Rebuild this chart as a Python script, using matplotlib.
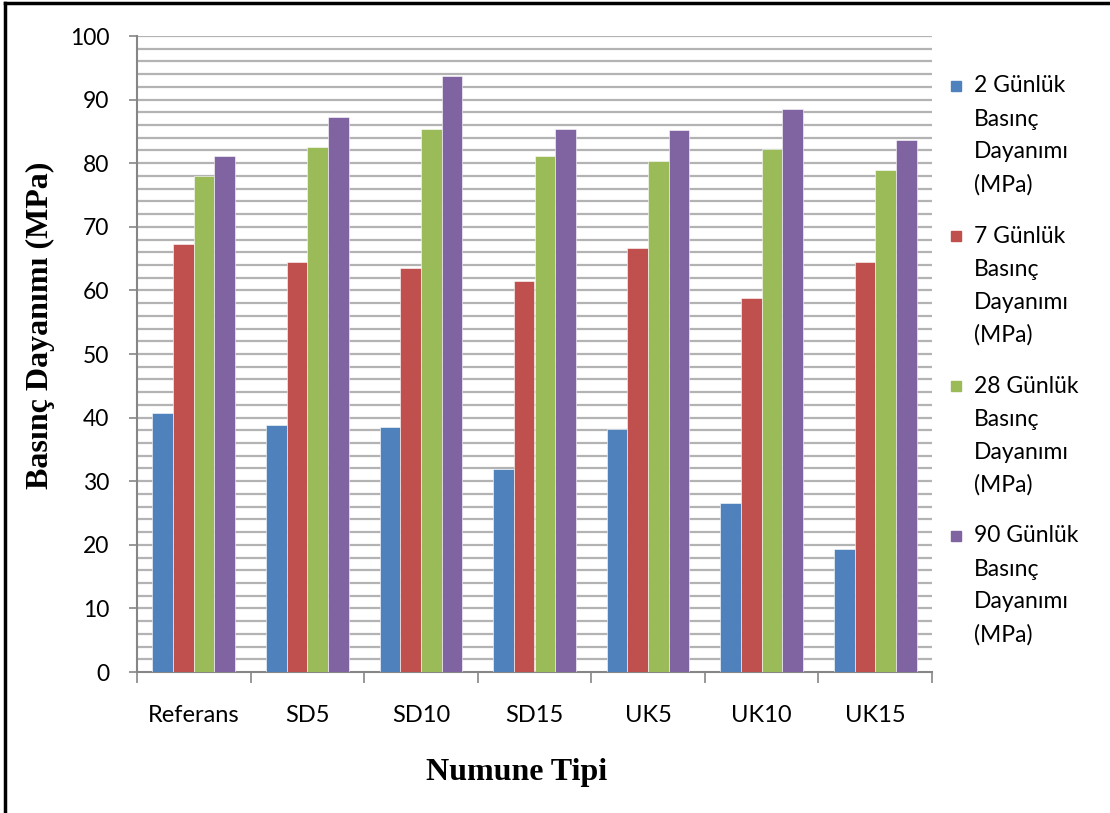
import numpy as np
import matplotlib.pyplot as plt
from matplotlib.lines import Line2D
from matplotlib.patches import Rectangle


categories = ["Referans", "SD5", "SD10", "SD15", "UK5", "UK10", "UK15"]

day2 = [40.7, 38.8, 38.5, 31.9, 38.2, 26.5, 19.3]
day7 = [67.3, 64.4, 63.5, 61.4, 66.7, 58.8, 64.4]
day28 = [78.0, 82.5, 85.3, 81.1, 80.4, 82.3, 79.0]
day90 = [81.1, 87.3, 93.7, 85.4, 85.2, 88.6, 83.6]

series_labels = ["2 Günlük", "7 Günlük", "28 Günlük", "90 Günlük"]
legend_tail = ["Basınç", "Dayanımı", "(MPa)"]
colors = ["#4F81BD", "#C0504D", "#9BBB59", "#8064A2"]

y_ticks = np.arange(0, 101, 10)


W, H = 1110, 813
fig = plt.figure(figsize=(W / 100, H / 100), dpi=100)
ax = fig.add_axes([137 / W, 1 - 672 / H, (932 - 137) / W, (672 - 36) / H])

x = np.arange(len(categories))
bar_w = 1 / 5.5
all_series = [day2, day7, day28, day90]
for i, (vals, col) in enumerate(zip(all_series, colors)):
    offs = (i - 1.5) * bar_w
    ax.bar(x + offs, vals, width=bar_w, color=col, edgecolor="white",
           linewidth=0.4, zorder=3)

ax.set_xlim(-0.5, len(categories) - 0.5)
ax.set_ylim(0, 100)

# gridlines every 2
for g in np.arange(2, 101, 2):
    ax.axhline(g, color="#b3b3b3", linewidth=1.6, zorder=1)

tick_font = "Lato"
ax.set_yticks(y_ticks)
ax.set_yticklabels([str(v) for v in y_ticks], fontsize=16.5, family=tick_font)
ax.tick_params(axis="y", length=6, width=1.2, color="#868686", pad=14)

ax.set_xticks(np.arange(-0.5, len(categories), 1))
ax.set_xticklabels([])
ax.tick_params(axis="x", which="major", length=8, width=1.2, color="#868686")
ax.set_xticks(x, minor=True)
ax.set_xticklabels(categories, minor=True, fontsize=17, family=tick_font)
ax.tick_params(axis="x", which="minor", length=0, pad=24)

for s in ["top", "right"]:
    ax.spines[s].set_visible(False)
for s in ["left", "bottom"]:
    ax.spines[s].set_color("#868686")
    ax.spines[s].set_linewidth(1.5)

fig.text(40 / W, 1 - 325 / H, "Basınç Dayanımı (MPa)", rotation=90,
         ha="center", va="center", fontsize=23, fontweight="bold",
         family="Liberation Serif")
fig.text(517 / W, 1 - 772 / H, "Numune Tipi", ha="center", va="center",
         fontsize=23, fontweight="bold", family="Liberation Serif")

# legend, handle beside the first line of each entry
for i, (lab, col) in enumerate(zip(series_labels, colors)):
    y0 = 86 + i * 150
    fig.patches.append(Rectangle((951 / W, 1 - (y0 + 5) / H), 10 / W, 10 / H,
                                 transform=fig.transFigure, color=col))
    for j, line in enumerate([lab] + legend_tail):
        fig.text(974 / W, 1 - (y0 + j * 33) / H, line, ha="left", va="center",
                 fontsize=16.5, family=tick_font)

# outer frame (top and left)
fig.lines.append(Line2D([5 / W, 5 / W], [0, 1 - 3 / H], transform=fig.transFigure,
                        color="black", linewidth=2.5))
fig.lines.append(Line2D([5 / W, 1], [1 - 3 / H, 1 - 3 / H], transform=fig.transFigure,
                        color="black", linewidth=2.5))

fig.savefig("out.png", dpi=100)
